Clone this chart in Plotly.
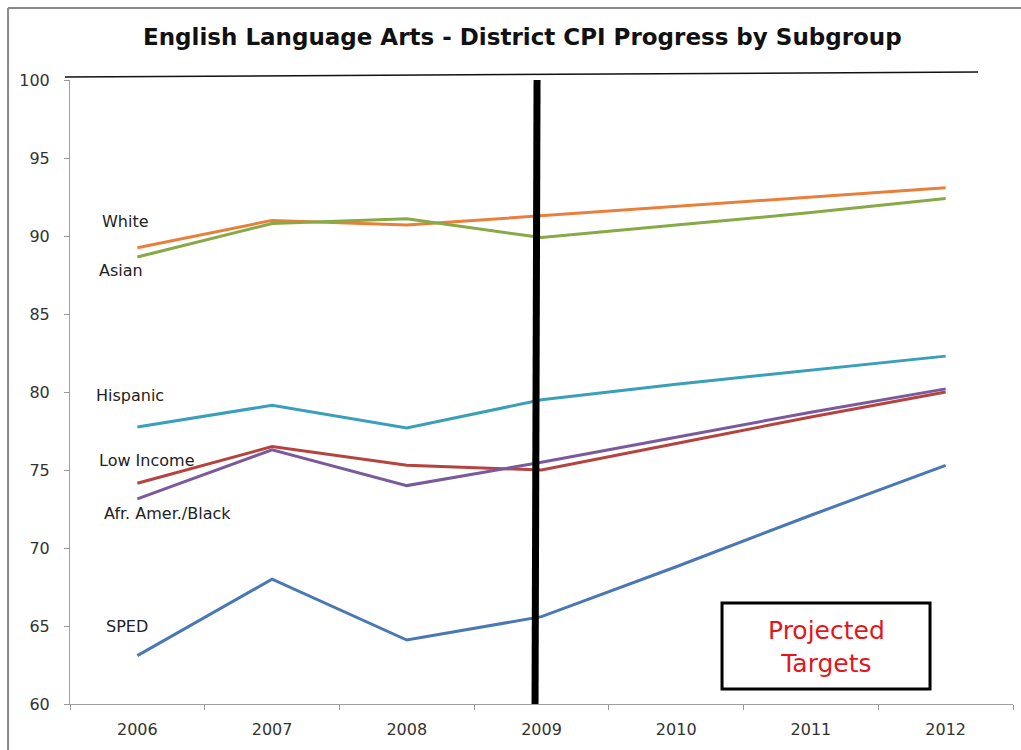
import plotly.graph_objects as go

years = ["2006", "2007", "2008", "2009", "2010", "2011", "2012"]
white = [89.25, 91.0, 90.7, 91.3, 91.9, 92.5, 93.1]
asian = [88.65, 90.8, 91.1, 89.9, 90.7, 91.5, 92.4]
hispanic = [77.75, 79.15, 77.7, 79.5, 80.5, 81.4, 82.3]
low_income = [74.15, 76.5, 75.3, 75.0, 76.7, 78.4, 80.0]
afr_amer = [73.15, 76.3, 74.0, 75.5, 77.1, 78.7, 80.2]
sped = [63.1, 68.0, 64.1, 65.6, 68.8, 72.1, 75.3]

series_names = ["White", "Asian", "Hispanic", "Low Income", "Afr. Amer./Black", "SPED"]
series_values = [white, asian, hispanic, low_income, afr_amer, sped]
series_colors = ["#E8803A", "#86AA45", "#3A9FB8", "#B5433F", "#7B5A9C", "#4A78B5"]

# label placement (paper x of left edge, y in data units)
label_pos = [(0.0318, 90.96), (0.0286, 87.76), (0.0255, 79.8),
             (0.0286, 75.64), (0.034, 72.24), (0.036, 64.94)]

title_text = "English Language Arts - District CPI Progress by Subgroup"
divider_year = "2009"

fig = go.Figure()
for name, vals, col in zip(series_names, series_values, series_colors):
    fig.add_trace(go.Scatter(x=years, y=vals, mode="lines", name=name,
                             line=dict(color=col, width=3), showlegend=False))

annotations = []
for name, (px, py) in zip(series_names, label_pos):
    annotations.append(dict(text=name, xref="paper", yref="y", x=px, y=py,
                            xanchor="left", yanchor="middle", showarrow=False,
                            font=dict(family="DejaVu Sans", size=16, color="#222")))

annotations.append(dict(text="Projected<br>Targets", xref="x", yref="y",
                        x=5.112, y=63.65, showarrow=False, align="center",
                        font=dict(family="DejaVu Sans", size=25, color="#E3161B")))

annotations.append(dict(text="<b>" + title_text + "</b>", xref="paper", yref="paper",
                        x=0.4796, y=(704 - 37) / 624, xanchor="center", yanchor="middle",
                        showarrow=False,
                        font=dict(family="DejaVu Sans", size=23, color="#111")))

div_idx = years.index(divider_year)
shapes = [
    # outer gray frame (left and top)
    dict(type="line", xref="paper", yref="paper", x0=-0.0657, x1=-0.0657,
         y0=1.1154, y1=-0.1, line=dict(color="#888", width=2)),
    dict(type="line", xref="paper", yref="paper", x0=-0.0657, x1=1.0085,
         y0=1.1154, y1=1.1154, line=dict(color="#888", width=2)),
    # slanted top line
    dict(type="line", xref="paper", yref="paper", x0=-0.0053, x1=0.9629,
         y0=1.0048, y1=1.0128, line=dict(color="#111", width=1.5)),
    # thick vertical divider
    dict(type="line", xref="x", yref="y", x0=div_idx - 0.033, x1=div_idx - 0.048,
         y0=100, y1=60, line=dict(color="black", width=7)),
    # projected targets box
    dict(type="rect", xref="x", yref="y", x0=4.34, x1=5.884, y0=60.96, y1=66.47,
         line=dict(color="black", width=3), fillcolor="white"),
]

fig.update_layout(
    width=1021, height=750,
    margin=dict(l=70, r=8, t=80, b=46),
    paper_bgcolor="white", plot_bgcolor="white",
    annotations=annotations, shapes=shapes,
    xaxis=dict(type="category", range=[-0.5, 6.5], tickson="boundaries",
               ticks="outside", ticklen=5, tickcolor="#999", showgrid=False,
               showline=True, linecolor="#A0A0A0", linewidth=1, zeroline=False,
               ticklabelstandoff=11,
               tickfont=dict(family="DejaVu Sans", size=16, color="#333")),
    yaxis=dict(range=[60, 100], dtick=5, ticks="outside", ticklen=5, tickcolor="#999",
               showgrid=False, showline=True, linecolor="#A0A0A0", linewidth=1,
               zeroline=False, ticklabelstandoff=11,
               tickfont=dict(family="DejaVu Sans", size=16, color="#333")),
)

fig.write_html("out.html")
